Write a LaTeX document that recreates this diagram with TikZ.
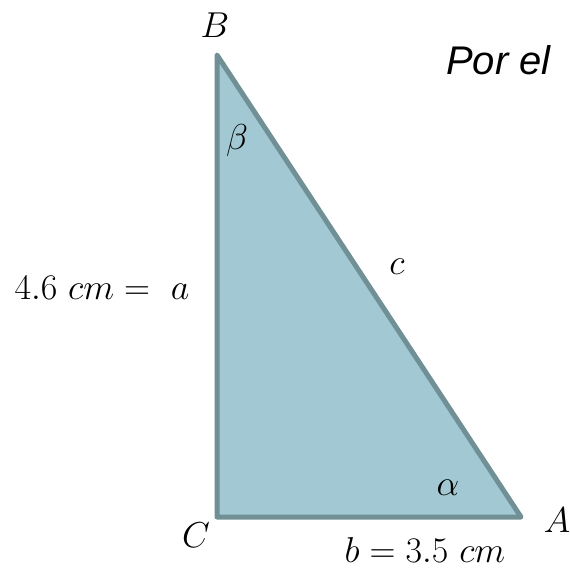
\RequirePackage{fix-cm}
\documentclass[tikz,border=0pt]{standalone}
\usepackage{fontspec}
\newfontfamily\arialit{Liberation Sans}[ItalicFont=* Italic]
\definecolor{trifill}{RGB}{162,201,211}
\definecolor{tristroke}{RGB}{113,144,150}
\begin{document}
\begin{tikzpicture}[x=1pt,y=-1pt,
  lbl/.style={inner sep=0pt,font=\fontsize{36}{42}\selectfont},
  tri/.style={draw=tristroke,fill=trifill,line width=5pt,line join=round}]
\useasboundingbox (0,0) rectangle (570,570);
\coordinate (C) at (217,517);
\coordinate (B) at (217,55);
\coordinate (A) at (521,517);
\filldraw[tri] (C) -- (B) -- (A) -- cycle;
\node[lbl] (lB) at (215,25) {$B$};
\node[lbl] (lbeta) at (237,140) {$\beta$};
\node[lbl] (lc) at (397,267) {$c$};
\node[lbl] (la) at (102,288) {$4.6\ cm=\ a$};
\node[lbl] (lalpha) at (448,488) {$\alpha$};
\node[lbl] (lC) at (196,535) {$C$};
\node[lbl] (lA) at (557,520) {$A$};
\node[lbl] (lb) at (425,550) {$b=3.5\ cm$};
\node[inner sep=0pt,anchor=west,font=\fontsize{40}{48}\selectfont\arialit\itshape] (por) at (446,60) {Por el};
\end{tikzpicture}
\end{document}
